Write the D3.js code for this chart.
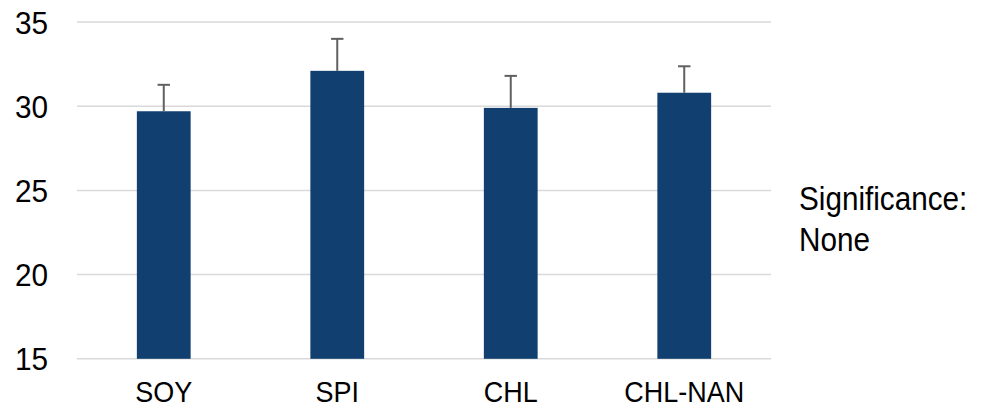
<!DOCTYPE html>
<html>
<head>
<meta charset="utf-8">
<script src="https://cdn.jsdelivr.net/npm/d3@7"></script>
<style>
  html, body { margin: 0; padding: 0; background: #fff; }
  svg text { font-family: "Liberation Sans", Arial, sans-serif; fill: #000; }
</style>
</head>
<body>
<svg id="chart" width="982" height="407"></svg>
<script>
const categories = ["SOY", "SPI", "CHL", "CHL-NAN"];
const means = [29.7, 32.1, 29.9, 30.8];
const errors = [1.57, 1.9, 1.9, 1.57];
const yTicks = [15, 20, 25, 30, 35];
const noteLines = ["Significance:", "None"];

const svg = d3.select("#chart");
const margin = { left: 77, right: 211, top: 22, bottom: 48 };
const W = 982, H = 407;

const x = d3.scaleBand()
  .domain(categories)
  .range([margin.left, W - margin.right])
  .paddingInner(0.69)
  .paddingOuter(0.345);

const y = d3.scaleLinear()
  .domain([15, 35])
  .range([H - margin.bottom - 0.2, margin.top]);

// horizontal gridlines
svg.append("g")
  .selectAll("line")
  .data(yTicks)
  .join("line")
  .attr("x1", margin.left)
  .attr("x2", W - margin.right)
  .attr("y1", d => y(d))
  .attr("y2", d => y(d))
  .attr("stroke", "#d9d9d9")
  .attr("stroke-width", 1.5);

// y-axis labels (slightly condensed type)
const ySx = 0.96;
const yAxis = d3.axisLeft(y).tickValues(yTicks).tickSize(0).tickPadding(29 / ySx);
svg.append("g")
  .attr("transform", `translate(${margin.left},0)`)
  .call(yAxis)
  .call(g => g.select(".domain").remove())
  .call(g => g.selectAll("text")
    .attr("font-size", 31)
    .attr("dy", "0.36em")
    .attr("transform", `scale(${ySx},1)`)
    .attr("font-family", "Liberation Sans, Arial, sans-serif")
    .attr("fill", "#000"));

// bars
svg.append("g")
  .selectAll("rect")
  .data(categories)
  .join("rect")
  .attr("x", d => x(d))
  .attr("width", x.bandwidth())
  .attr("y", (d, i) => y(means[i]))
  .attr("height", (d, i) => y(15) - y(means[i]))
  .attr("fill", "#113f70");

// error bars (upper only)
const eb = svg.append("g").attr("stroke", "#606060").attr("stroke-width", 2);
categories.forEach((c, i) => {
  const cx = x(c) + x.bandwidth() / 2;
  eb.append("line")
    .attr("x1", cx).attr("x2", cx)
    .attr("y1", y(means[i])).attr("y2", y(means[i] + errors[i]));
  eb.append("line")
    .attr("x1", cx - 6.2).attr("x2", cx + 6.2)
    .attr("y1", y(means[i] + errors[i])).attr("y2", y(means[i] + errors[i]));
});

// x-axis labels (slightly condensed type)
const xSx = 0.93;
const xAxis = d3.axisBottom(x).tickSize(0).tickPadding(22.5);
svg.append("g")
  .attr("transform", `translate(0,${y(15)})`)
  .call(xAxis)
  .call(g => g.select(".domain").remove())
  .call(g => g.selectAll("text")
    .attr("font-size", 29)
    .attr("transform", `scale(${xSx},1)`)
    .attr("font-family", "Liberation Sans, Arial, sans-serif")
    .attr("fill", "#000"));

// side note
const nSx = 0.9;
svg.append("g")
  .attr("transform", `translate(799,0) scale(${nSx},1)`)
  .selectAll("text")
  .data(noteLines)
  .join("text")
  .attr("x", 0)
  .attr("y", (d, i) => 210 + i * 41)
  .attr("font-size", 33)
  .text(d => d);
</script>
</body>
</html>
